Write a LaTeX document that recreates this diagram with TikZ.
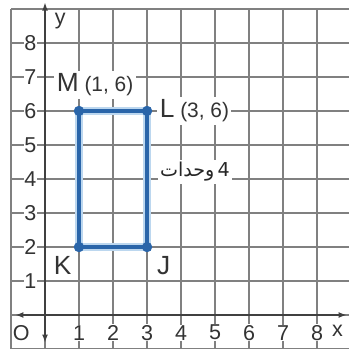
\documentclass[tikz,border=0pt]{standalone}
\usepackage{fontspec}
\setmainfont{Liberation Sans}
\newfontfamily\arabicfont[Script=Arabic]{DejaVu Sans}
\TeXXeTstate=1
\usepackage{xcolor}
\usepackage{tikz}
\usetikzlibrary{arrows.meta,positioning}
\definecolor{segblue}{HTML}{2A65A9}
\definecolor{halo}{HTML}{BCD7EF}

\begin{document}
\begin{tikzpicture}[
		gridline/.style={line width=1.3pt,black!50},
		axisline/.style={line width=1.5pt,black!75,{Latex[length=7pt,width=5pt]}-{Latex[length=7pt,width=5pt]}},
		ticklab/.style={fill=white,inner sep=0.6pt,text=black!80,font=\fontsize{18}{18}\selectfont},
		vertex/.style={circle,fill=segblue,inner sep=0pt,minimum size=0.3cm},
		ptname/.style={fill=white,inner sep=2pt,text=black!80,anchor=base west,font=\fontsize{22}{22}\selectfont}
	]
				\useasboundingbox (-1.324,-1.0) rectangle (8.941,9.265);
				\clip (-1.324,-1.0) rectangle (8.941,9.265);

				% Grid
				\draw[gridline] (-1,-1) grid (9,9);

				% Axes with arrows at both ends
				\coordinate (xl) at (-0.88,0);
				\coordinate (xr) at (8.88,0);
				\coordinate (yb) at (0,-0.82);
				\coordinate (yt) at (0,9.2);
				\draw[axisline] (xl) -- (xr);
				\draw[axisline] (yb) -- (yt);

				% Tick labels
				\foreach \k in {1,...,8} {
					\node[ticklab] (ylab\k) at (-0.43,\k) {\k};
					\node[ticklab] (xlab\k) at (\k,-0.52) {\k};
				}
				\node[ticklab] (orig) at (-0.7,-0.52) {O};
				\node[ticklab] (xname) at (8.6,-0.47) {x};
				\node[ticklab] (yname) at (0.45,8.64) {y};

				% Rectangle KJLM
				\node[vertex] (K) at (1,2) {};
				\node[vertex] (J) at (3,2) {};
				\node[vertex] (L) at (3,6) {};
				\node[vertex] (M) at (1,6) {};
				\draw[line width=7pt,halo,line join=round] (K.center) -- (J.center) -- (L.center) -- (M.center) -- cycle;
				\draw[line width=3.5pt,segblue,line join=round] (K.center) -- (J.center) -- (L.center) -- (M.center) -- cycle;
				\fill[segblue] (K) circle (0.15) (J) circle (0.15) (L) circle (0.15) (M) circle (0.15);

				% Vertex names
				\node[ptname] (Mlab) at (0.27,6.56) {M{\fontsize{17.5}{17.5}\selectfont\ (1, 6)}};
				\node[ptname] (Llab) at (3.3,5.8) {L{\fontsize{17.5}{17.5}\selectfont\ (3, 6)}};
				\node[ptname] (Klab) at (0.18,1.18) {K};
				\node[ptname] (Jlab) at (3.22,1.18) {J};

				% Side length
				\node[fill=white,inner sep=2pt,text=black!85,font=\fontsize{16}{16}\selectfont] (side) at (4.41,4.22) {\arabicfont\beginR 4\,وحدات\endR};
			\end{tikzpicture}
\end{document}
